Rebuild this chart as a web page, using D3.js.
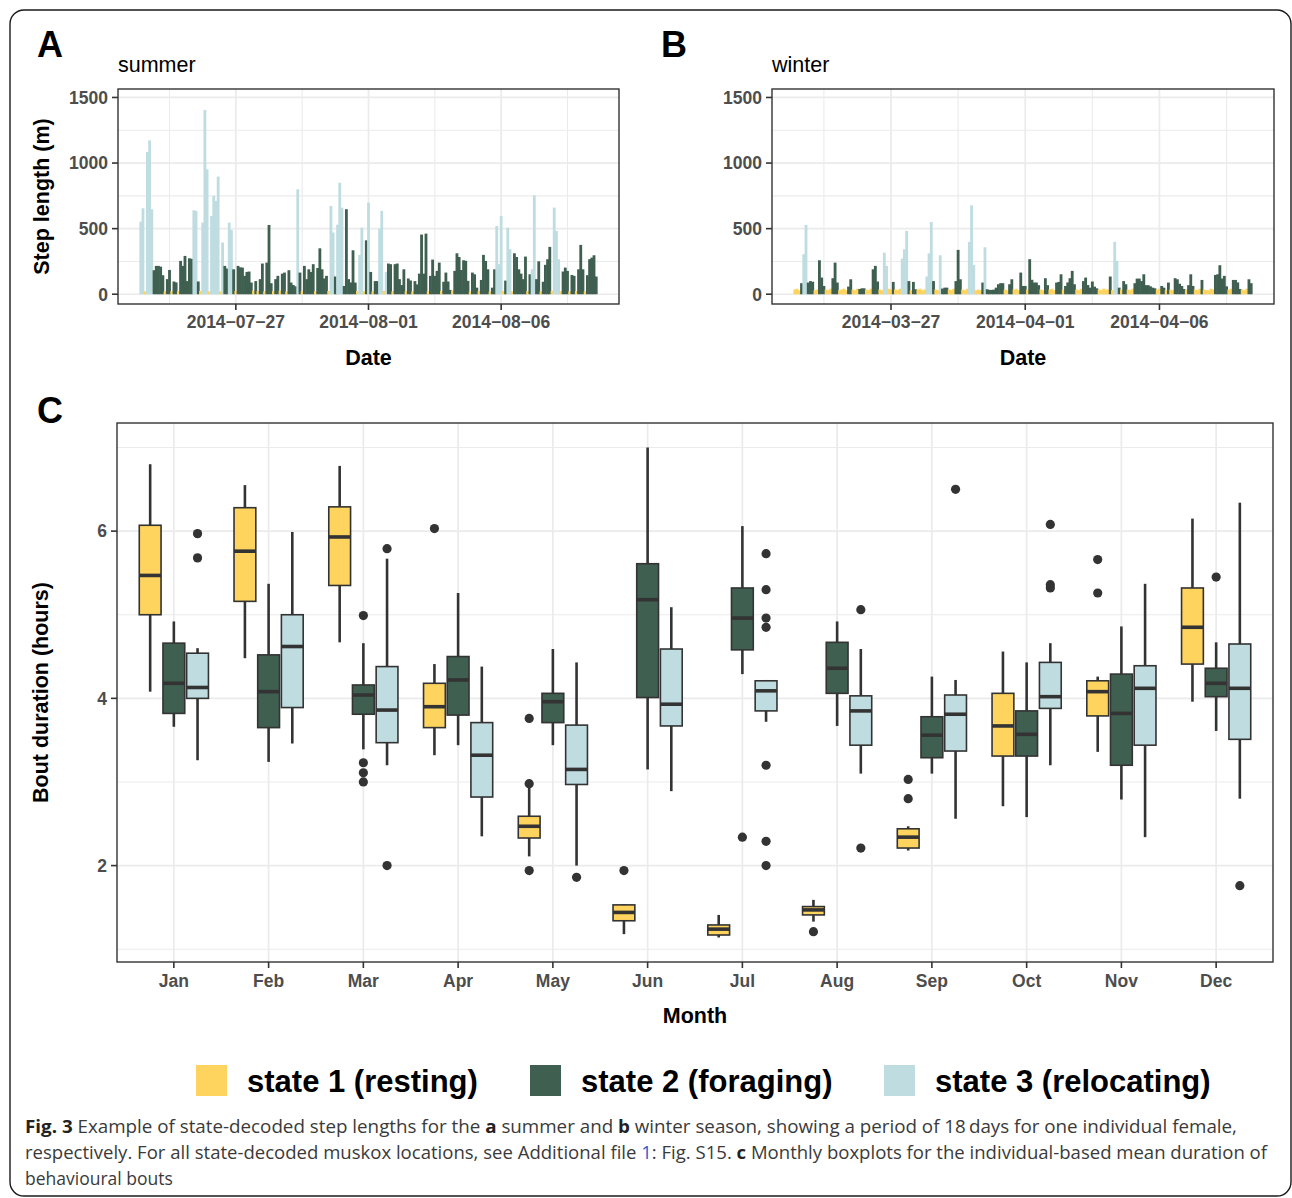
<!DOCTYPE html>
<html>
<head>
<meta charset="utf-8">
<script src="https://cdn.jsdelivr.net/npm/d3@7"></script>
<style>
  html, body { margin: 0; padding: 0; background: #ffffff; }
  svg { display: block; }
</style>
</head>
<body>
<svg id="chart" width="1292" height="1198"></svg>
<script>
// ------------------------------------------------------------------
// DATA
// ------------------------------------------------------------------
const stateNames  = ["state 1 (resting)", "state 2 (foraging)", "state 3 (relocating)"];
const stateColors = ["#FED35E", "#3F5F50", "#BFDDE1"];

// 2-hourly GPS fixes: [state, step length (m)]
const fixIntervalHours = 2;
const summerStart = "2014-07-23T10:00";
const winterStart = "2014-03-23T10:00";
const summerTicks = ["2014-07-27", "2014-08-01", "2014-08-06"];
const winterTicks = ["2014-03-27", "2014-04-01", "2014-04-06"];
const stepLimits  = [0, 1490];
const stepTicks   = [0, 500, 1000, 1500];

const summerSteps = [
  [3,553],[3,655],[1,22],[3,1085],[3,1173],[3,648],[2,183],[2,216],[2,216],[2,210],[2,145],[1,22],
  [2,115],[2,185],[1,22],[2,97],[2,90],[1,25],[2,254],[2,216],[2,292],[2,100],[2,274],[2,270],
  [3,640],[3,635],[2,97],[1,25],[3,546],[3,1405],[3,952],[1,22],[3,597],[3,750],[3,711],[3,897],
  [1,22],[3,394],[2,216],[2,196],
  [3,546],[3,490],[2,190],[1,25],[2,216],[2,205],[2,203],[2,140],[2,170],[2,173],[2,89],[1,28],
  [2,100],[1,25],[2,115],[2,234],[1,22],[2,241],[2,528],[2,84],[1,25],[2,115],[2,140],[1,28],
  [2,157],[2,165],[1,22],[2,183],[2,89],[2,70],[2,60],
  [3,800],[2,165],[1,25],[2,216],[2,115],[2,190],[2,170],[2,229],[1,22],[2,200],[2,350],[2,190],
  [2,120],[2,140],[1,25],
  [3,673],[3,470],[2,135],[3,530],[3,850],[3,660],[2,63],[2,648],[2,115],[2,90],[2,335],[2,89],
  [1,25],[3,300],[3,508],[1,22],
  [2,411],[3,698],[2,170],[1,22],[2,100],[2,100],[3,500],[3,635],[1,25],[3,170],[2,234],[2,229],
  [1,22],[2,229],[2,234],[2,115],[2,70],[2,190],[1,25],[2,120],[2,105],[1,22],[2,100],[2,75],
  [2,157],[2,455],[2,157],[2,462],[1,22],[2,140],[2,264],[2,140],[2,178],[2,241],[1,25],[2,95],
  [2,165],[2,97],[2,33],[1,28],[2,178],[2,312],[2,284],[2,185],[2,259],[2,255],[2,102],[1,22],
  [2,165],[2,152],[2,50],[1,25],[2,109],[2,300],[2,254],[2,190],[1,22],[2,50],[2,190],
  [3,520],[3,229],[3,597],[1,25],[2,104],[3,508],[3,343],[1,22],[2,312],[2,284],[2,190],[2,157],
  [2,115],[2,287],[1,25],[2,152],[3,190],[3,754],[2,115],[2,251],[1,22],[2,95],[2,224],[2,267],
  [2,361],[1,25],[3,660],[3,483],[3,267],[1,22],[2,173],[2,203],[2,178],[1,22],[2,147],[2,140],
  [1,25],[2,190],[2,376],[2,190],[1,22],[2,145],[2,267],[2,279],[2,297],[2,135]
];

const winterSteps = [
  [1,36],[1,42],[1,30],[2,84],[3,305],[3,528],[2,89],[2,100],[2,95],[1,30],
  [1,36],[2,259],[2,127],[2,63],[1,36],[1,30],[1,42],[2,122],[2,241],[2,89],
  [1,30],[1,36],[1,42],[1,30],[2,58],[2,114],[1,36],[1,30],[1,42],[2,40],
  [2,45],[2,45],[1,36],[1,30],[1,42],[2,190],[2,216],[2,97],[1,36],[1,30],
  [3,317],[3,216],[1,42],[1,36],[2,94],[1,36],[1,30],[1,42],[3,272],[3,343],
  [3,483],[2,100],[1,30],[2,94],[2,38],[1,36],[1,42],[1,30],[1,36],[3,135],
  [3,312],[3,551],[2,100],[1,36],[1,30],[3,297],[2,43],[2,50],[2,50],[1,36],
  [1,30],[1,42],[2,100],[2,338],[2,114],[1,36],[1,30],[1,42],[3,399],[3,678],
  [3,224],[1,30],[1,36],[1,30],[2,89],[3,358],[2,38],[2,33],[2,33],[2,35],
  [2,50],[2,76],[2,84],[2,84],[1,36],[1,30],[2,76],[2,114],[1,36],[1,42],
  [1,30],[2,165],[2,63],[2,63],[1,36],
  [2,267],[2,110],[2,89],[2,89],[2,69],[1,36],[1,30],[2,122],[2,69],[1,36],
  [1,42],[1,30],[2,89],[2,94],[2,152],[1,36],[2,63],[2,90],[2,122],[2,178],
  [2,76],[1,36],[1,30],[1,42],[2,100],[2,127],[2,70],[2,50],[2,97],[2,58],
  [2,45],[1,36],[1,30],[1,42],[1,36],[1,36],[2,135],[1,30],[3,399],[3,254],
  [2,50],[1,36],[2,100],[2,76],[1,36],[1,30],[1,42],[2,84],[2,119],[2,119],
  [2,100],[2,152],[2,69],[2,69],[2,60],[2,50],[2,45],[1,36],[1,42],[2,63],
  [2,50],[1,30],[2,89],[1,36],[1,30],[2,122],[2,114],[2,80],[2,63],[2,40],
  [1,36],[2,69],[2,152],[2,63],[1,36],[1,30],[1,42],[2,109],[1,36],[1,30],
  [1,30],[1,42],[1,36],[2,147],[2,152],[2,221],[2,120],[2,140],[2,60],[1,36],
  [1,42],[2,109],[2,109],[2,90],[2,40],[1,36],[1,30],[1,42],[2,114],[2,84]
];

// Monthly boxplots of bout duration (hours): [lower whisker, Q1, median, Q3, upper whisker]
const months = ["Jan","Feb","Mar","Apr","May","Jun","Jul","Aug","Sep","Oct","Nov","Dec"];
const restingBox = [
  [4.08,5.00,5.47,6.07,6.80],[4.48,5.16,5.76,6.28,6.55],[4.67,5.35,5.93,6.29,6.78],
  [3.32,3.65,3.90,4.18,4.41],[2.11,2.33,2.47,2.59,2.93],[1.18,1.34,1.44,1.53,1.54],
  [1.14,1.17,1.24,1.29,1.41],[1.33,1.41,1.47,1.51,1.59],[2.18,2.21,2.34,2.44,2.47],
  [2.71,3.31,3.67,4.06,4.56],[3.36,3.79,4.08,4.21,4.26],[3.96,4.41,4.85,5.32,6.15]
];
const restingOut = [[],[],[],[6.03],[3.76,2.98,1.94],[1.94],[],[1.21],[3.03,2.80],[],[5.66,5.26],[]];
const foragingBox = [
  [3.66,3.82,4.18,4.66,4.92],[3.24,3.65,4.08,4.52,5.37],[3.39,3.81,4.04,4.16,4.66],
  [3.44,3.80,4.22,4.50,5.26],[3.44,3.71,3.96,4.06,4.59],[3.15,4.01,5.18,5.61,7.00],
  [4.29,4.58,4.96,5.32,6.06],[3.67,4.06,4.36,4.67,4.92],[3.10,3.29,3.56,3.78,4.26],
  [2.58,3.31,3.57,3.85,4.43],[2.79,3.20,3.82,4.29,4.86],[3.61,4.02,4.18,4.36,4.67]
];
const foragingOut = [[],[],[4.99,3.23,3.11,3.00],[],[],[],[2.34],[],[],[],[],[5.45]];
const relocatingBox = [
  [3.26,4.00,4.13,4.54,4.60],[3.46,3.89,4.62,5.00,5.99],[3.20,3.47,3.86,4.38,5.67],
  [2.35,2.82,3.32,3.71,4.38],[2.00,2.97,3.15,3.68,4.43],[2.89,3.67,3.93,4.59,5.09],
  [3.72,3.85,4.09,4.21,4.22],[3.10,3.44,3.85,4.03,4.59],[2.56,3.37,3.81,4.04,4.22],
  [3.20,3.88,4.02,4.43,4.66],[2.34,3.44,4.12,4.39,5.37],[2.80,3.51,4.12,4.65,6.34]
];
const relocatingOut = [[5.97,5.68],[],[5.79,2.00],[],[1.86],[],[5.73,5.30,4.96,4.85,3.20,2.29,2.00],
  [5.06,2.21],[6.50],[6.08,5.36,5.32],[],[1.76]];
const boutTicks = [2, 4, 6];
const boutMinor = [1, 3, 5, 7];

// ------------------------------------------------------------------
// DRAWING
// ------------------------------------------------------------------
const svg = d3.select("#chart");
const FONT = "'Liberation Sans', Arial, Helvetica, sans-serif";
const GRID = "#EBEBEB", FRAME = "#333333", TICKTXT = "#4D4D4D";

svg.append("rect").attr("width", 1292).attr("height", 1198).attr("fill", "#fff");
// outer figure frame
svg.append("rect").attr("x", 10).attr("y", 10).attr("width", 1281).attr("height", 1186)
  .attr("rx", 14).attr("fill", "none").attr("stroke", "#1a1a1a").attr("stroke-width", 1.4);

function expand(lo, hi, f) { const p = (hi - lo) * f; return [lo - p, hi + p]; }
const parseTime = d3.utcParse("%Y-%m-%dT%H:%M");
const parseDay  = d3.utcParse("%Y-%m-%d");
const fmtDay = d3.utcFormat("%Y-%m-%d");

function panelLetter(txt, x, y) {
  svg.append("text").attr("x", x).attr("y", y).text(txt)
    .attr("font-family", FONT).attr("font-weight", "bold").attr("font-size", 36).attr("fill", "#000");
}

function stepPanel(o) {
  const t0 = parseTime(o.start);
  const pts = o.data.map((d, i) => ({ state: d[0], v: d[1], t: d3.utcHour.offset(t0, i * fixIntervalHours) }));
  const ext = d3.extent(pts, d => d.t);
  const dom = expand(+ext[0], +ext[1], 0.05);
  const x = d3.scaleUtc().domain(dom.map(v => new Date(v))).range([o.left, o.right]);
  const y = d3.scaleLinear().domain(expand(stepLimits[0], stepLimits[1], 0.05)).range([o.bottom, o.top]);
  const g = svg.append("g");

  const majors = o.ticks.map(parseDay);
  const half = (majors[1] - majors[0]) / 2;
  const minors = [];
  for (let k = -1; k < majors.length; k++) {
    const base = k < 0 ? +majors[0] - 2 * half : +majors[k];
    const m = base + half;
    if (m > dom[0] && m < dom[1]) minors.push(new Date(m));
  }
  const yMinor = [250, 750, 1250];

  // grid
  g.selectAll(".ymin").data(yMinor).join("line")
    .attr("x1", o.left).attr("x2", o.right).attr("y1", d => y(d)).attr("y2", d => y(d))
    .attr("stroke", GRID).attr("stroke-width", 1.1);
  g.selectAll(".xmin").data(minors).join("line")
    .attr("x1", d => x(d)).attr("x2", d => x(d)).attr("y1", o.top).attr("y2", o.bottom)
    .attr("stroke", GRID).attr("stroke-width", 1.1);
  g.selectAll(".ymaj").data(stepTicks).join("line")
    .attr("x1", o.left).attr("x2", o.right).attr("y1", d => y(d)).attr("y2", d => y(d))
    .attr("stroke", GRID).attr("stroke-width", 1.7);
  g.selectAll(".xmaj").data(majors).join("line")
    .attr("x1", d => x(d)).attr("x2", d => x(d)).attr("y1", o.top).attr("y2", o.bottom)
    .attr("stroke", GRID).attr("stroke-width", 1.7);

  // bars
  const bw = x(d3.utcHour.offset(t0, fixIntervalHours)) - x(t0);
  g.selectAll(".bar").data(pts).join("rect")
    .attr("x", d => x(d.t) - bw / 2 - 0.3).attr("width", bw + 0.6)
    .attr("y", d => y(d.v)).attr("height", d => y(0) - y(d.v))
    .attr("fill", d => stateColors[d.state - 1]);

  // frame
  g.append("rect").attr("x", o.left).attr("y", o.top).attr("width", o.right - o.left)
    .attr("height", o.bottom - o.top).attr("fill", "none").attr("stroke", FRAME).attr("stroke-width", 1.4);

  // y axis
  g.selectAll(".yt").data(stepTicks).join("line")
    .attr("x1", o.left - 6).attr("x2", o.left).attr("y1", d => y(d)).attr("y2", d => y(d))
    .attr("stroke", FRAME).attr("stroke-width", 1.6);
  g.selectAll(".yl").data(stepTicks).join("text")
    .attr("x", o.left - 10).attr("y", d => y(d)).attr("dy", "0.36em").attr("text-anchor", "end")
    .attr("font-family", FONT).attr("font-weight", "bold").attr("font-size", 17.5).attr("fill", TICKTXT)
    .text(d => d);
  // x axis
  g.selectAll(".xt").data(majors).join("line")
    .attr("x1", d => x(d)).attr("x2", d => x(d)).attr("y1", o.bottom).attr("y2", o.bottom + 6)
    .attr("stroke", FRAME).attr("stroke-width", 1.6);
  g.selectAll(".xl").data(majors).join("text")
    .attr("x", d => x(d)).attr("y", o.bottom + 24).attr("text-anchor", "middle")
    .attr("font-family", FONT).attr("font-weight", "bold").attr("font-size", 17.5).attr("fill", TICKTXT)
    .text(d => fmtDay(d).replace(/-/g, "\u2212"));

  g.append("text").attr("x", (o.left + o.right) / 2).attr("y", 365).attr("text-anchor", "middle")
    .attr("font-family", FONT).attr("font-weight", "bold").attr("font-size", 21.5).attr("fill", "#000")
    .text("Date");
  g.append("text").attr("x", o.left).attr("y", 72)
    .attr("font-family", FONT).attr("font-size", 21.5).attr("fill", "#000").text(o.title);
}

stepPanel({ data: summerSteps, start: summerStart, ticks: summerTicks, left: 118, right: 619, top: 89, bottom: 304, title: "summer" });
stepPanel({ data: winterSteps, start: winterStart, ticks: winterTicks, left: 772, right: 1274, top: 89, bottom: 304, title: "winter" });

panelLetter("A", 37, 57);
panelLetter("B", 661, 57);
panelLetter("C", 37, 423);

svg.append("text").attr("transform", "translate(49,196.5) rotate(-90)").attr("text-anchor", "middle")
  .attr("font-family", FONT).attr("font-weight", "bold").attr("font-size", 21.5).attr("fill", "#000")
  .text("Step length (m)");

// ---------------- Panel C ----------------
(function () {
  const L = 117, R = 1273, T = 423, B = 962;
  const allVals = [restingBox, foragingBox, relocatingBox].flat(2)
    .concat([restingOut, foragingOut, relocatingOut].flat(2));
  const y = d3.scaleLinear().domain(expand(d3.min(allVals), d3.max(allVals), 0.05)).range([B, T]);
  const x = d3.scalePoint().domain(months).range([L, R]).padding(0.6);
  const step = x.step();
  const dodge = step * 0.25, boxW = step * 0.23;
  const g = svg.append("g");

  g.selectAll(".ymin").data(boutMinor).join("line")
    .attr("x1", L).attr("x2", R).attr("y1", d => y(d)).attr("y2", d => y(d))
    .attr("stroke", GRID).attr("stroke-width", 1.1);
  g.selectAll(".ymaj").data(boutTicks).join("line")
    .attr("x1", L).attr("x2", R).attr("y1", d => y(d)).attr("y2", d => y(d))
    .attr("stroke", GRID).attr("stroke-width", 1.7);
  g.selectAll(".xmaj").data(months).join("line")
    .attr("x1", d => x(d)).attr("x2", d => x(d)).attr("y1", T).attr("y2", B)
    .attr("stroke", GRID).attr("stroke-width", 1.7);

  const series = [
    { box: restingBox, out: restingOut, s: 0 },
    { box: foragingBox, out: foragingOut, s: 1 },
    { box: relocatingBox, out: relocatingOut, s: 2 }
  ];
  months.forEach((m, mi) => {
    series.forEach(ser => {
      const cx = x(m) + (ser.s - 1) * dodge;
      const [lo, q1, med, q3, hi] = ser.box[mi];
      g.append("line").attr("x1", cx).attr("x2", cx).attr("y1", y(hi)).attr("y2", y(q3))
        .attr("stroke", FRAME).attr("stroke-width", 2.6);
      g.append("line").attr("x1", cx).attr("x2", cx).attr("y1", y(q1)).attr("y2", y(lo))
        .attr("stroke", FRAME).attr("stroke-width", 2.6);
      g.append("rect").attr("x", cx - boxW / 2).attr("width", boxW)
        .attr("y", y(q3)).attr("height", y(q1) - y(q3))
        .attr("fill", stateColors[ser.s]).attr("stroke", FRAME).attr("stroke-width", 1.6);
      g.append("line").attr("x1", cx - boxW / 2).attr("x2", cx + boxW / 2).attr("y1", y(med)).attr("y2", y(med))
        .attr("stroke", FRAME).attr("stroke-width", 3.6);
      ser.out[mi].forEach(v => {
        g.append("circle").attr("cx", cx).attr("cy", y(v)).attr("r", 4.6).attr("fill", FRAME);
      });
    });
  });

  g.append("rect").attr("x", L).attr("y", T).attr("width", R - L).attr("height", B - T)
    .attr("fill", "none").attr("stroke", FRAME).attr("stroke-width", 1.4);

  g.selectAll(".yt").data(boutTicks).join("line")
    .attr("x1", L - 6).attr("x2", L).attr("y1", d => y(d)).attr("y2", d => y(d))
    .attr("stroke", FRAME).attr("stroke-width", 1.6);
  g.selectAll(".yl").data(boutTicks).join("text")
    .attr("x", L - 10).attr("y", d => y(d)).attr("dy", "0.36em").attr("text-anchor", "end")
    .attr("font-family", FONT).attr("font-weight", "bold").attr("font-size", 17.5).attr("fill", TICKTXT)
    .text(d => d);
  g.selectAll(".xt").data(months).join("line")
    .attr("x1", d => x(d)).attr("x2", d => x(d)).attr("y1", B).attr("y2", B + 6)
    .attr("stroke", FRAME).attr("stroke-width", 1.6);
  g.selectAll(".xl").data(months).join("text")
    .attr("x", d => x(d)).attr("y", 987).attr("text-anchor", "middle")
    .attr("font-family", FONT).attr("font-weight", "bold").attr("font-size", 17.5).attr("fill", TICKTXT)
    .text(d => d);

  g.append("text").attr("x", (L + R) / 2).attr("y", 1023).attr("text-anchor", "middle")
    .attr("font-family", FONT).attr("font-weight", "bold").attr("font-size", 21.5).attr("fill", "#000")
    .text("Month");
  g.append("text").attr("transform", `translate(48,${(T + B) / 2}) rotate(-90)`).attr("text-anchor", "middle")
    .attr("font-family", FONT).attr("font-weight", "bold").attr("font-size", 21.5).attr("fill", "#000")
    .text("Bout duration (hours)");
})();

// ---------------- Legend ----------------
const legendX = [196, 530, 884];
const lg = svg.append("g");
stateNames.forEach((name, i) => {
  lg.append("rect").attr("x", legendX[i]).attr("y", 1065).attr("width", 31).attr("height", 31)
    .attr("fill", stateColors[i]);
  lg.append("text").attr("x", legendX[i] + 51).attr("y", 1092)
    .attr("font-family", FONT).attr("font-weight", "bold").attr("font-size", 31).attr("fill", "#000")
    .text(name);
});

// ---------------- Caption ----------------
const CAP = "'Open Sans', 'Noto Sans', sans-serif";
const captionLines = [
  { y: 1133, len: 1212, parts: [["Fig. 3", "b"], [" Example of state-decoded step lengths for the ", ""], ["a", "b"],
      [" summer and ", ""], ["b", "b"], [" winter season, showing a period of 18\u2009days for one individual female,", ""]] },
  { y: 1159, len: 1242, parts: [["respectively. For all state-decoded muskox locations, see Additional file ", ""], ["1", "l"],
      [": Fig. S15. ", ""], ["c", "b"], [" Monthly boxplots for the individual-based mean duration of", ""]] },
  { y: 1185, len: null, parts: [["behavioural bouts", ""]] }
];
captionLines.forEach(line => {
  const t = svg.append("text").attr("x", 25).attr("y", line.y)
    .attr("font-family", CAP).attr("font-size", 17.5).attr("fill", "#3a3a3a");
  if (line.len) t.attr("textLength", line.len).attr("lengthAdjust", "spacingAndGlyphs");
  line.parts.forEach(p => {
    const ts = t.append("tspan").text(p[0]);
    if (p[1] === "b") ts.attr("font-weight", "bold").attr("fill", "#222");
    if (p[1] === "l") ts.attr("fill", "#2d5bd0");
  });
});
</script>
</body>
</html>
